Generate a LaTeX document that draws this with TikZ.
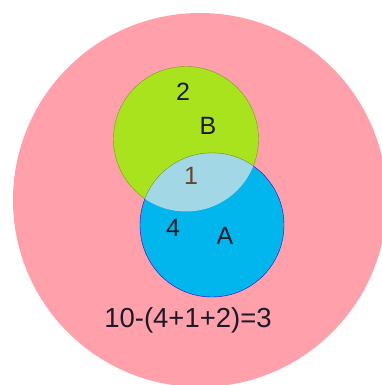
\documentclass[tikz,border=0pt]{standalone}
\usepackage{fontspec}
\setmainfont{Liberation Sans}
\definecolor{pinkbg}{HTML}{FFA0AA}
\definecolor{setB}{HTML}{A8E31E}
\definecolor{setA}{HTML}{00B6EC}
\definecolor{lens}{HTML}{A2D8E6}
\definecolor{txt}{HTML}{1A1A28}
\begin{document}
\begin{tikzpicture}[x=1pt,y=1pt,font=\fontsize{25}{30}\selectfont]
\useasboundingbox (0,0) rectangle (382,385);
\clip (0,0) rectangle (382,385);
\fill[white] (0,0) rectangle (382,385);
% universe
\fill[pinkbg] (200,185) circle[radius=187];
% the two sets
\coordinate (cB) at (186,246);
\coordinate (cA) at (212,160);
\filldraw[fill=setB,draw=setB!70!black,line width=.4pt] (cB) circle[radius=72.5];
\filldraw[fill=setA,draw=blue!60!violet,line width=.4pt] (cA) circle[radius=72];
\begin{scope}
\clip (cB) circle[radius=72.5];
\filldraw[fill=lens,draw=setB!60!gray,line width=.4pt] (cA) circle[radius=72];
\end{scope}
% counts
\node[txt] (n2) at (183,293) {2};
\node[txt] (lB) at (208,259) {B};
\node[brown!55!black] (n1) at (191,209) {1};
\node[txt] (n4) at (173,157) {4};
\node[txt] (lA) at (225,149) {A};
\node[txt,font=\fontsize{27.5}{32}\selectfont] (rest) at (188,65) {10-(4+1+2)=3};
\end{tikzpicture}
\end{document}
